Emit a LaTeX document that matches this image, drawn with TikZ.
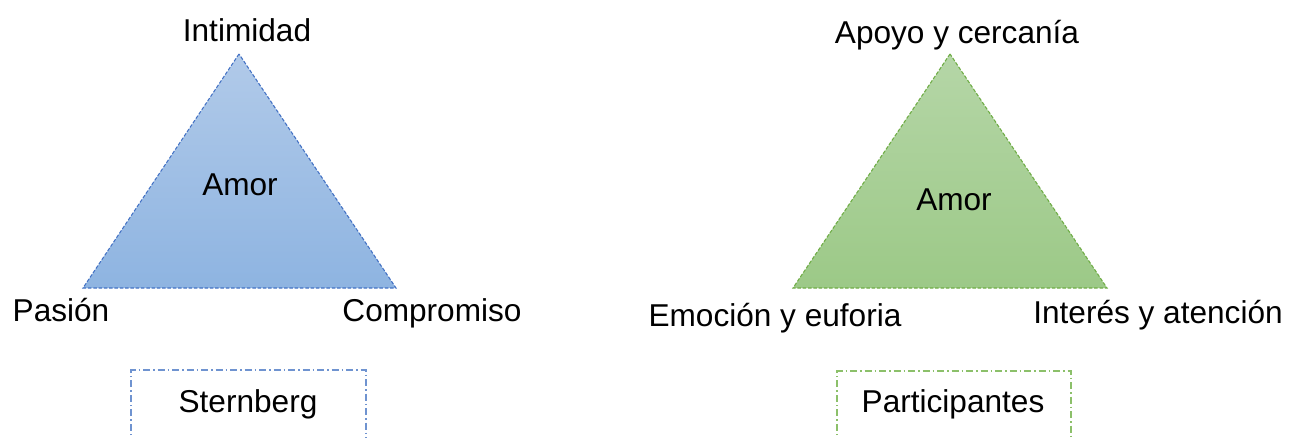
\documentclass[tikz,border=0pt]{standalone}
\usepackage{fontspec}
\setmainfont{Liberation Sans}
\definecolor{bluetop}{HTML}{B1CAE9}
\definecolor{bluebot}{HTML}{8EB4E1}
\definecolor{blueline}{HTML}{4472C4}
\definecolor{greentop}{HTML}{B5D6A7}
\definecolor{greenbot}{HTML}{9CC987}
\definecolor{greenline}{HTML}{70AD47}
\definecolor{blueboxline}{HTML}{6F93D0}
\definecolor{greenboxline}{HTML}{8CC06A}
\begin{document}
\begin{tikzpicture}[x=1pt,y=-1pt,
  lbl/.style={anchor=base,inner sep=0pt,font=\fontsize{31.6}{38}\selectfont},
  tri/.style={line width=1.1pt,dash pattern=on 3.5pt off 1.8pt},
  srcbox/.style={line width=1.1pt,dash pattern=on 7pt off 3pt on 1.5pt off 3pt}]
\useasboundingbox (0,0) rectangle (1299,437);
% left triangle
\coordinate (LA) at (239,54);
\coordinate (LB) at (83,288);
\coordinate (LC) at (396,288);
\path[tri,draw=blueline,top color=bluetop,bottom color=bluebot] (LA) -- (LB) -- (LC) -- cycle;
% right triangle
\coordinate (RA) at (950,54);
\coordinate (RB) at (793,288);
\coordinate (RC) at (1107,288);
\path[tri,draw=greenline,top color=greentop,bottom color=greenbot] (RA) -- (RB) -- (RC) -- cycle;
% labels left
\node[lbl] (int) at (247,41) {Intimidad};
\node[lbl] (amorL) at (240,195) {Amor};
\node[lbl] (pas) at (61,321) {Pasión};
\node[lbl] (comp) at (432,321) {Compromiso};
\node[lbl] (stern) at (248,412) {Sternberg};
% labels right
\node[lbl] (apo) at (957,43) {Apoyo y cercanía};
\node[lbl] (amorR) at (954,210) {Amor};
\node[lbl] (emo) at (775,326) {Emoción y euforia};
\node[lbl] (inte) at (1158,323) {Interés y atención};
\node[lbl] (part) at (953,412) {Participantes};
% boxes (cut at bottom)
\coordinate (b1a) at (131,445);
\coordinate (b1b) at (131,370);
\coordinate (b1c) at (366,370);
\coordinate (b1d) at (366,445);
\draw[srcbox,draw=blueboxline] (b1a) -- (b1b) -- (b1c) -- (b1d);
\coordinate (b2a) at (837,445);
\coordinate (b2b) at (837,371);
\coordinate (b2c) at (1071,371);
\coordinate (b2d) at (1071,445);
\draw[srcbox,draw=greenboxline] (b2a) -- (b2b) -- (b2c) -- (b2d);
\end{tikzpicture}
\end{document}
